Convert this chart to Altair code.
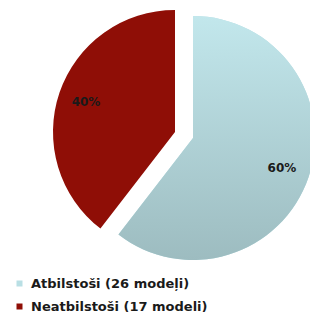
import altair as alt
import pandas as pd

categories = ["Atbilstoši (26 modeļi)", "Neatbilstoši (17 modeļi)"]
counts = [26, 17]
labels = ["60%", "40%"]
order = [0, 1]

colors = ["#b9dfe4", "#8f0e06"]

df = pd.DataFrame({"cat": categories, "count": counts, "label": labels, "ord": order})

W, H = 302, 304
CX, CY = 176, 127
R = 122
LR = 94
offsets = {categories[0]: (9, 3), categories[1]: (-9, -3)}

base = alt.Chart(df).transform_joinaggregate(
    total="sum(count)"
).transform_window(
    cum="sum(count)", sort=[alt.SortField("ord")], frame=[None, 0]
).transform_calculate(
    t1="datum.cum / datum.total",
    t0="(datum.cum - datum.count) / datum.total",
    tm="(datum.cum - datum.count / 2) / datum.total",
)

theta_scale = alt.Scale(domain=[0, 1], range=[0, 6.283185307])
color_scale = alt.Scale(domain=categories, range=colors)

layers = []
for cat in categories:
    dx, dy = offsets[cat]
    layers.append(
        base.transform_filter(alt.datum.cat == cat).mark_arc(radius=R).encode(
            theta=alt.Theta("t0:Q", scale=theta_scale),
            theta2="t1:Q",
            x=alt.value(CX + dx),
            y=alt.value(CY + dy),
            color=alt.Color("cat:N", scale=color_scale, sort=categories,
                            legend=alt.Legend(title=None)),
        )
    )

grad = alt.Gradient(
    gradient="linear",
    stops=[alt.GradientStop(color="#c2e7ec", offset=0),
           alt.GradientStop(color="#9dbcc0", offset=1)],
    x1=0, x2=0, y1=0, y2=1,
)
dx, dy = offsets[categories[0]]
layers.append(
    base.transform_filter(alt.datum.cat == categories[0]).mark_arc(radius=R, fill=grad).encode(
        theta=alt.Theta("t0:Q", scale=theta_scale),
        theta2="t1:Q",
        x=alt.value(CX + dx),
        y=alt.value(CY + dy),
    )
)

for cat in categories:
    dx, dy = offsets[cat]
    layers.append(
        base.transform_filter(alt.datum.cat == cat).mark_text(
            radius=LR, font="DejaVu Sans", fontWeight="bold", fontSize=12, color="#1a1a1a"
        ).encode(
            theta=alt.Theta("tm:Q", scale=theta_scale),
            x=alt.value(CX + dx),
            y=alt.value(CY + dy),
            text="label:N",
        )
    )

chart = alt.layer(*layers).properties(
    width=W, height=H, padding=0, autosize=alt.AutoSizeParams(type="none")
).configure_view(stroke=None).configure_legend(
    orient="none", legendX=5, legendY=269, direction="vertical",
    symbolType="square", symbolSize=36, symbolStrokeWidth=0,
    labelFont="DejaVu Sans", labelFontWeight="bold", labelFontSize=13,
    labelColor="#1a1a1a", labelOffset=5, rowPadding=9, labelLimit=300,
)

chart.save("out.html", embed_options={"renderer": "svg", "actions": False})
